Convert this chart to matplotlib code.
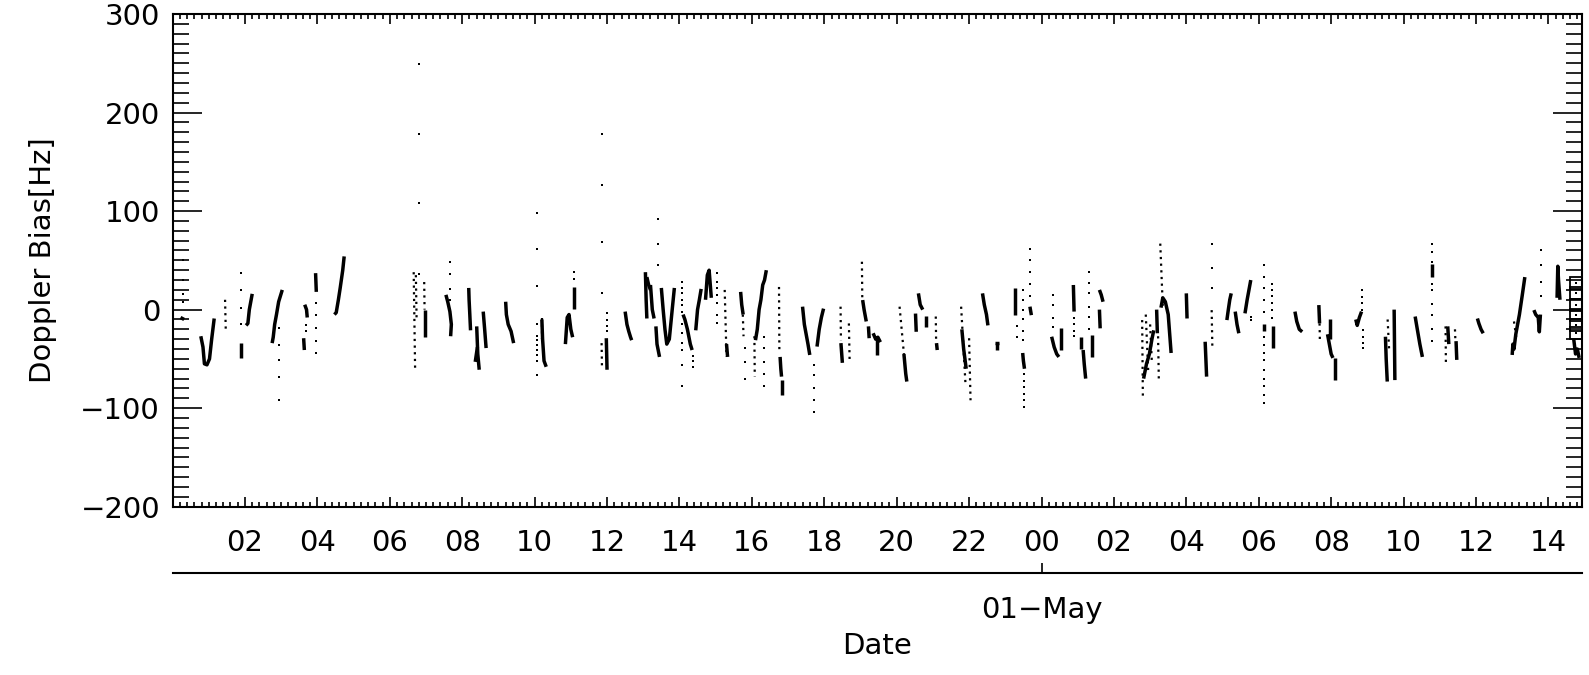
import matplotlib
matplotlib.use("Agg")
import matplotlib.pyplot as plt
from matplotlib.ticker import MultipleLocator, FixedLocator, FuncFormatter

# heures depuis le 30-Apr 00:00
trace_hours = [
    [0.22, 0.32], [0.78, 0.84, 0.88, 0.95, 1.02, 1.08, 1.15], [1.9, 1.9],
    [2.03, 2.08, 2.12, 2.2], [2.75, 2.78, 2.82, 2.87, 2.93, 3.03], [3.65, 3.7, 3.72],
    [3.62, 3.64], [3.95, 3.97], [4.47, 4.52, 4.58, 4.63, 4.7, 4.74], [6.97, 6.97],
    [7.55, 7.6, 7.66, 7.7, 7.68], [8.18, 8.19, 8.21, 8.23], [8.4, 8.43, 8.47],
    [8.36, 8.42], [8.58, 8.62, 8.66], [9.2, 9.22, 9.27, 9.35, 9.42],
    [10.2, 10.22, 10.26, 10.32], [10.85, 10.9, 10.95, 11.0, 11.05], [11.1, 11.1],
    [11.98, 12.0], [12.5, 12.55, 12.6, 12.65, 12.68], [13.06, 13.08, 13.1],
    [13.1, 13.15, 13.2], [13.2, 13.25, 13.3], [13.35, 13.38, 13.45],
    [13.5, 13.55, 13.6, 13.65, 13.72, 13.8, 13.86], [14.1, 14.15, 14.22, 14.3, 14.35],
    [14.45, 14.5, 14.55, 14.6], [14.72, 14.77, 14.82, 14.88], [15.3, 15.33],
    [15.69, 15.72, 15.76], [16.1, 16.15, 16.2, 16.25, 16.3, 16.35, 16.4],
    [16.78, 16.8, 16.82], [16.82, 16.82], [17.4, 17.45, 17.5, 17.55, 17.6],
    [17.8, 17.86, 17.92, 17.98], [18.46, 18.5], [19.06, 19.1, 19.16], [19.22, 19.24],
    [19.35, 19.42, 19.48, 19.55], [19.45, 19.45], [20.2, 20.25, 20.28],
    [20.6, 20.65, 20.72], [20.52, 20.54], [20.8, 20.8], [21.1, 21.12],
    [21.8, 21.85, 21.92], [22.37, 22.42, 22.48, 22.52], [22.72, 22.82], [22.77, 22.77],
    [23.27, 23.27], [23.48, 23.5, 23.53], [23.68, 23.72], [24.28, 24.35, 24.42, 24.48],
    [24.53, 24.53], [24.88, 24.9], [25.1, 25.1], [25.15, 25.18, 25.22], [25.4, 25.4],
    [25.6, 25.65, 25.7], [25.6, 25.62], [26.82, 26.9, 26.98, 27.05, 27.1],
    [27.18, 27.2], [27.3, 27.35, 27.42, 27.5, 27.58], [28.0, 28.02],
    [28.52, 28.54, 28.56], [29.12, 29.16, 29.2, 29.24], [29.35, 29.4, 29.45],
    [29.62, 29.68, 29.74, 29.78], [30.15, 30.15], [30.4, 30.4],
    [31.0, 31.05, 31.12, 31.2], [31.66, 31.68], [31.9, 31.95, 32.0, 32.05],
    [31.98, 31.98], [32.1, 32.1], [32.68, 32.72, 32.78, 32.84], [33.5, 33.52, 33.55],
    [33.74, 33.76], [34.32, 34.38, 34.45, 34.52], [34.78, 34.78], [35.22, 35.25],
    [35.45, 35.47], [36.04, 36.08, 36.14, 36.2],
    [37.0, 37.02, 37.05, 37.1, 37.15, 37.2, 37.28, 37.35],
    [37.6, 37.65, 37.72, 37.75, 37.78], [38.24, 38.26, 38.28, 38.32],
    [38.7, 38.75, 38.8, 38.85],
]
trace_bias = [
    [-8, -10], [-27, -38, -55, -56, -50, -30, -9], [-34, -49],
    [-16, -14, 0, 16], [-34, -28, -15, -5, 8, 20], [5, 0, -8],
    [-29, -41], [37, 18], [-5, -3, 10, 22, 40, 54], [0, -28],
    [15, 8, -2, -15, -27], [22, 10, -5, -21], [-17, -45, -61],
    [-53, -38], [-2, -20, -39], [8, -5, -15, -22, -34],
    [-10, -30, -52, -58], [-35, -8, -5, -20, -28], [23, 1],
    [-29, -61], [-2, -15, -22, -28, -31], [38, 10, -9],
    [33, 25, 20], [25, 0, -9], [-17, -35, -48],
    [22, 0, -20, -35, -30, 0, 22], [-5, -10, -20, -35, -41],
    [-21, 0, 10, 21], [10, 35, 40, 12], [-35, -48],
    [18, 5, -5], [-31, -20, 0, 10, 25, 30, 40],
    [-48, -60, -68], [-71.5, -87], [3, -15, -25, -35, -46],
    [-37.5, -20, -8, 1], [-34, -54], [9.7, 0, -12], [-17, -29],
    [-24, -30, -28, -33], [-30, -46], [-45, -65, -73],
    [16.5, 5, 0], [-4, -22.5], [-6, -18], [-34, -41],
    [-20, -40, -60], [16.5, 5, -5, -16], [-34, -34], [-34, -41],
    [21.6, -5.6], [-44, -52, -60], [3, -5.6], [-27.5, -38, -45, -48],
    [-19, -41], [25, -2], [-28, -40], [-41, -55, -70], [-26, -48],
    [20, 15, 8], [0, -19], [-70, -55, -45, -30, -21],
    [0, -24], [2, 12, 8, -5, -44], [16.5, -9],
    [-32.6, -50, -68], [-10.6, 0, 10, 16.5], [-2, -15, -24],
    [-3.8, 10, 22, 30], [-15, -22], [-17, -39],
    [-2, -12, -20, -22.5], [4.6, -14], [-25, -35, -45, -49],
    [-10, -30], [-49, -71.5], [-10, -16, -8, -2], [-27.5, -50, -73],
    [0, -71.5], [-7, -20, -35, -48], [33, 46], [-17, -35],
    [-32, -51], [-9, -14, -20, -24],
    [-46, -35, -40, -25, -15, -5, 15, 33],
    [-0.5, -5, -8, -22.5, -5], [12, 44, 30, 10],
    [-30, -45, -40, -49],
]

# passages echantillonnes en pointilles serres
dotted_hours = [
    [1.45, 1.47], [6.66, 6.7], [6.72, 6.74], [6.95, 6.96], [10.2, 10.2],
    [11.85, 11.86], [15.25, 15.3], [15.75, 15.77], [16.07, 16.08], [16.75, 16.76],
    [18.45, 18.46], [18.68, 18.7], [19.04, 19.05], [20.08, 20.2], [21.08, 21.09],
    [21.78, 21.9], [22.0, 22.04], [26.78, 26.8], [26.88, 26.95], [27.0, 27.05],
    [27.22, 27.24], [27.28, 27.35], [28.7, 28.72], [31.68, 31.69], [33.56, 33.6],
    [35.16, 35.17], [35.42, 35.43], [37.05, 37.12],
]
dotted_bias = [
    [10, -22], [38, -63], [35, -10], [28, 0], [-8, -30],
    [-34, -58], [20, -48], [-5, -27], [-27, -68], [23, -44],
    [3, -31], [-14, -51], [48.6, 9.7], [3, -45], [-7, -34],
    [3, -75], [-29, -92], [-10.6, -90], [-5, -65], [-15, -55],
    [-27, -71], [67, 3], [-0.5, -41], [-14, -34], [-10, -40],
    [-17, -56], [-20, -30], [-12, -30],
]

# points isoles
col_hours = [0.3, 1.9, 2.95, 3.68, 3.95, 6.8, 7.67, 10.06, 11.1, 11.85, 12.0, 13.4,
             14.07, 14.38, 15.03, 15.82, 16.34, 17.72, 23.32, 23.5, 23.52, 23.69,
             24.33, 24.9, 25.32, 28.7, 29.8, 30.15, 30.38, 32.84, 32.89, 34.78, 37.8]
col_bias = [
    [50, 30, 16, 8], [37, 20, 2, -15], [-19, -36, -51, -68, -92], [-16, -22],
    [7, -5.6, -19, -31.5, -44], [249, 178, 108.5, 36.5], [48, 36, 21, 10],
    [98, 62, 24, -15, -27, -31, -36, -41, -46, -52, -66], [38, 30.7],
    [178, 126, 69, 16.5], [-3, -10.6, -17, -22], [92, 67, 45],
    [28, 21.6, 16.5, 9.7, 4.6, -2, -15, -24, -34, -41, -56, -77.6], [-47, -52, -58],
    [37, 28, 21.6, 14.8, 7, -5.6, -14], [-39, -53, -70], [-27.5, -39, -53, -65, -77.6],
    [-56, -66, -80, -92, -104], [-17, -27.5], [20, 10, 0, -10, -22, -31],
    [-65, -72, -79, -86, -92, -99], [62, 50, 38, 26, 14], [14.8, 4.6, -8, -18],
    [-8, -15, -22, -27], [38, 26.7, 16.5, 2.3, -7, -20], [67, 42.5, 21.6], [-7, -10.6],
    [45, 33, 21.6, 10, -2, -20, -28, -36, -44, -51, -61, -70, -78, -87, -95],
    [26, 20, 14, 7, 0, -9], [20, 13, 6.4, 0], [-21, -27.5, -34, -39],
    [67, 58, 48, 40, 26, 20, 6, -5.6, -20, -32], [60, 45, 28, 14],
]

box_hours = [38.75, 38.75, 38.75, 38.75, 38.75, 38.75]
box_bias = [26.7, 16.5, 4.6, -5.6, -15.7, -24]

hour_ticks = [2, 4, 6, 8, 10, 12, 14, 16, 18, 20, 22, 24, 26, 28, 30, 32, 34, 36, 38]

FS = 21

fig = plt.figure(figsize=(15.89, 6.75), dpi=100)
ax = fig.add_axes([0.1086, 0.2493, 0.8868, 0.7300])

for t, v in zip(trace_hours, trace_bias):
    ax.plot(t, v, color="k", lw=2.5, solid_capstyle="butt")
for t, v in zip(dotted_hours, dotted_bias):
    ax.plot(t, v, color="k", lw=1.6, linestyle=(0, (1, 2)))
for t, vals in zip(col_hours, col_bias):
    ax.plot([t] * len(vals), vals, "s", color="k", ms=2.0, mew=0)
ax.plot(box_hours, box_bias, "s", ms=8.5, mfc="none", mec="k", mew=1.3)
ax.plot(box_hours, box_bias, "s", color="k", ms=2.0, mew=0)

ax.set_xlim(0, 38.92)
ax.set_ylim(-200, 300)
ax.yaxis.set_major_locator(MultipleLocator(100))
ax.yaxis.set_minor_locator(MultipleLocator(10))
ax.xaxis.set_major_locator(FixedLocator(hour_ticks))
ax.xaxis.set_minor_locator(MultipleLocator(0.2))
ax.xaxis.set_major_formatter(FuncFormatter(lambda h, p: "%02d" % (int(round(h)) % 24)))

for s in ax.spines.values():
    s.set_linewidth(1.5)
ax.tick_params(axis="both", which="both", direction="in", top=True, right=True,
               width=1.2, labelsize=FS)
ax.tick_params(axis="y", which="major", length=21, pad=9)
ax.tick_params(axis="y", which="minor", length=11.3)
ax.tick_params(axis="x", which="major", length=7.5, pad=16)
ax.tick_params(axis="x", which="minor", length=3.6)

ax.set_ylabel("Doppler Bias[Hz]", fontsize=FS)
ax.yaxis.set_label_coords(-0.082, 0.5)

sec = ax.secondary_xaxis(-0.1352)
sec.set_xticks([24])
sec.set_xticklabels(["01\u2212May"])
sec.spines["bottom"].set_linewidth(1.5)
sec.tick_params(direction="in", length=7.5, width=1.2, labelsize=FS, pad=16)
sec.set_xlabel("Date", fontsize=FS, labelpad=6)

fig.savefig("out.png", dpi=100)
